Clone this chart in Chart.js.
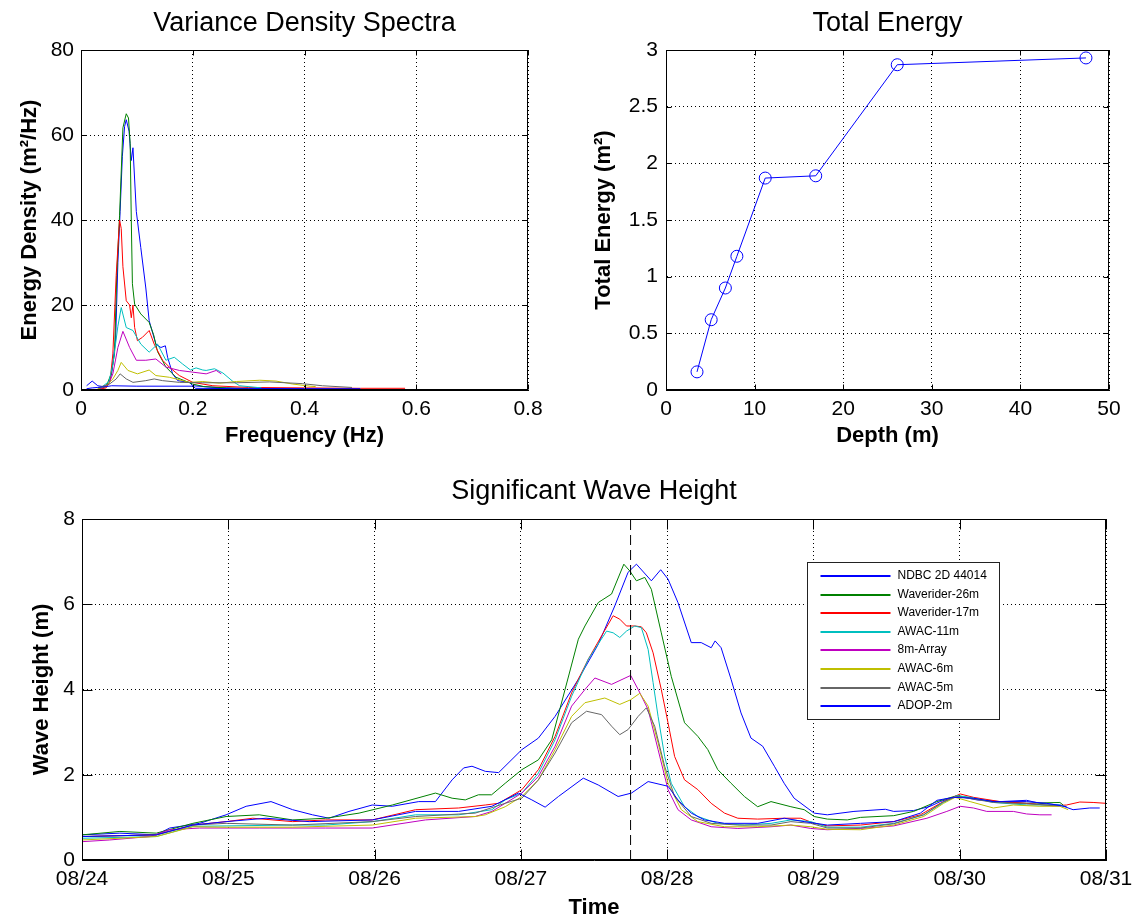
<!DOCTYPE html>
<html>
<head>
<meta charset="utf-8">
<title>Wave spectra, total energy and significant wave height</title>
<script src="https://cdn.jsdelivr.net/npm/chart.js@4.4.1/dist/chart.umd.min.js"></script>
<style>
  html, body { margin: 0; padding: 0; background: #fff; }
  #wrap { position: relative; width: 1141px; height: 921px; overflow: hidden; }
  canvas { position: absolute; }
</style>
</head>
<body>
<div id="wrap">
  <canvas id="spectra" width="560" height="460" style="left:0;top:0"></canvas>
  <canvas id="energy" width="571" height="460" style="left:570px;top:0"></canvas>
  <canvas id="waves" width="1141" height="461" style="left:0;top:460px"></canvas>
</div>
<script>
// instrument names, same order in every panel
const seriesNames = ["NDBC 2D 44014", "Waverider-26m", "Waverider-17m", "AWAC-11m", "8m-Array", "AWAC-6m", "AWAC-5m", "ADOP-2m"];
const lineColors = ["#0000ff", "#008000", "#ff0000", "#00bfbf", "#bf00bf", "#bfbf00", "#666666", "#0000ff"];

// variance density spectra: [frequency Hz, energy density m^2/Hz]
const specNdbc = [[0.01,1.0],[0.02,2.1],[0.03,1.0],[0.04,0.8],[0.05,1.5],[0.055,4],[0.062,12],[0.066,30],[0.07,42],[0.074,55],[0.078,62],[0.081,63.6],[0.086,60.9],[0.09,54],[0.093,57],[0.099,42],[0.107,33.5],[0.116,24],[0.122,16.3],[0.134,10.8],[0.143,10],[0.151,10.4],[0.155,7.7],[0.164,3.8],[0.173,2.2],[0.194,1.8],[0.2,1.0],[0.25,0.5],[0.3,0.4],[0.4,0.3],[0.5,0.2]];
const specWr26 = [[0.03,0.2],[0.045,0.8],[0.054,3.8],[0.06,8.5],[0.064,27],[0.069,41],[0.075,61.7],[0.081,65],[0.085,64],[0.088,58],[0.09,40],[0.092,25],[0.096,20.2],[0.107,17.9],[0.122,15.9],[0.13,13],[0.137,9],[0.152,5.4],[0.17,3],[0.2,1.4],[0.22,0.8],[0.26,0.5],[0.3,0.3]];
const specWr17 = [[0.03,0.1],[0.045,0.5],[0.052,2],[0.057,8.5],[0.063,27],[0.069,40],[0.072,38],[0.075,29],[0.081,21],[0.087,20],[0.09,17],[0.093,20],[0.096,14.7],[0.101,11.6],[0.11,12.4],[0.122,14],[0.131,10.8],[0.146,7],[0.158,5.4],[0.176,3.4],[0.2,1.8],[0.236,1],[0.3,0.6],[0.4,0.5],[0.5,0.4],[0.58,0.4]];
const specAwac11 = [[0.035,0.5],[0.05,2],[0.057,6],[0.066,15],[0.072,19.4],[0.081,14.7],[0.093,14],[0.107,10.8],[0.122,8.9],[0.137,10.8],[0.152,7],[0.167,7.7],[0.182,6.1],[0.196,4.7],[0.206,5.2],[0.218,4.7],[0.224,4.6],[0.239,5],[0.254,4.0],[0.272,2.0],[0.284,1.0],[0.323,0.5]];
const specArray8 = [[0.035,0.3],[0.05,1.5],[0.057,3.8],[0.066,10],[0.075,13.8],[0.087,10],[0.099,7],[0.116,7],[0.134,7.3],[0.152,5.4],[0.176,4.6],[0.2,4.2],[0.224,3.8],[0.242,4.6],[0.251,3.8]];
const specAwac6 = [[0.03,0.3],[0.045,1],[0.057,2.6],[0.066,4.6],[0.072,6.5],[0.084,4.6],[0.101,3.8],[0.122,4.7],[0.134,3.4],[0.158,3],[0.194,1.8],[0.218,2.0],[0.248,1.6],[0.278,2.0],[0.32,2.3],[0.349,2.1],[0.379,1.4],[0.41,0.9],[0.42,0.8]];
const specAwac5 = [[0.03,0.5],[0.051,1.4],[0.063,2.6],[0.07,3.8],[0.081,2.6],[0.093,1.8],[0.116,2.2],[0.131,2.6],[0.146,2.2],[0.176,1.8],[0.218,1.7],[0.278,1.7],[0.337,1.9],[0.396,1.5],[0.432,1.0],[0.485,0.6]];
const specAdop2 = [[0.01,0.3],[0.02,0.5],[0.03,0.6],[0.045,0.8],[0.055,1.0],[0.1,0.9],[0.2,0.9],[0.205,0.4],[0.3,0.3],[0.4,0.3],[0.5,0.3]];

// total energy against instrument depth
const depths = [3.5, 5.1, 6.7, 8.0, 11.2, 16.9, 26.1, 47.4];
const totalEnergy = [0.16, 0.62, 0.90, 1.18, 1.87, 1.89, 2.87, 2.93];

// significant wave height: [days after 08/24 00:00, Hs m]
const dayLabels = ["08/24", "08/25", "08/26", "08/27", "08/28", "08/29", "08/30", "08/31"];
const stormDay = 3.75;
const hsNdbc = [[0,0.59],[0.259,0.63],[0.508,0.59],[0.599,0.75],[0.804,0.86],[0.985,1.06],[1.122,1.26],[1.292,1.37],[1.44,1.18],[1.576,1.06],[1.689,0.98],[1.825,1.14],[1.984,1.29],[2.121,1.26],[2.302,1.37],[2.416,1.37],[2.53,1.88],[2.609,2.16],[2.666,2.2],[2.757,2.08],[2.848,2.05],[3.007,2.59],[3.12,2.86],[3.234,3.37],[3.393,4.24],[3.529,5.06],[3.642,5.96],[3.733,6.75],[3.79,6.94],[3.892,6.55],[3.956,6.81],[4.006,6.59],[4.074,6.04],[4.165,5.1],[4.233,5.1],[4.301,4.98],[4.328,5.14],[4.369,4.98],[4.437,4.24],[4.505,3.45],[4.573,2.86],[4.653,2.67],[4.733,2.2],[4.8,1.8],[4.868,1.45],[5.005,1.1],[5.095,1.06],[5.277,1.14],[5.492,1.19],[5.549,1.14],[5.685,1.16],[5.799,1.26],[5.867,1.37],[5.958,1.47],[6.003,1.49],[6.117,1.41],[6.276,1.37],[6.457,1.4],[6.548,1.33],[6.685,1.29],[6.775,1.18],[6.889,1.22],[6.957,1.22]];
const hsWr26 = [[0,0.59],[0.259,0.67],[0.508,0.63],[0.758,0.86],[0.985,1.02],[1.212,1.06],[1.44,0.94],[1.666,0.98],[1.894,1.1],[2.121,1.29],[2.416,1.57],[2.53,1.45],[2.62,1.41],[2.71,1.53],[2.8,1.53],[2.893,1.8],[3.007,2.12],[3.12,2.35],[3.211,2.82],[3.302,4.0],[3.393,5.18],[3.438,5.49],[3.529,6.04],[3.62,6.24],[3.704,6.94],[3.745,6.78],[3.79,6.55],[3.847,6.63],[3.892,6.35],[3.96,5.33],[4.028,4.31],[4.119,3.22],[4.21,2.9],[4.278,2.59],[4.346,2.12],[4.437,1.8],[4.528,1.49],[4.619,1.25],[4.71,1.37],[4.846,1.25],[4.937,1.18],[5.005,1.02],[5.095,0.96],[5.231,0.94],[5.322,1.0],[5.549,1.04],[5.685,1.14],[5.844,1.37],[5.981,1.51],[6.049,1.47],[6.23,1.37],[6.457,1.33],[6.685,1.35],[6.707,1.29]];
const hsWr17 = [[0,0.55],[0.508,0.59],[0.758,0.82],[0.985,0.9],[1.167,0.98],[1.44,0.9],[1.666,0.94],[1.984,0.94],[2.28,1.18],[2.575,1.22],[2.757,1.29],[2.848,1.33],[3.007,1.65],[3.12,2.12],[3.234,2.9],[3.347,3.92],[3.461,4.71],[3.552,5.26],[3.631,5.73],[3.676,5.65],[3.722,5.49],[3.779,5.49],[3.824,5.47],[3.858,5.33],[3.904,4.86],[3.96,4.0],[4.006,3.22],[4.051,2.43],[4.119,1.88],[4.21,1.65],[4.301,1.33],[4.392,1.1],[4.483,0.98],[4.619,0.96],[4.801,0.98],[4.914,0.98],[5.005,0.86],[5.095,0.8],[5.322,0.82],[5.549,0.9],[5.731,1.06],[5.867,1.33],[6.003,1.55],[6.094,1.47],[6.276,1.37],[6.457,1.33],[6.639,1.27],[6.73,1.29],[6.821,1.36],[6.912,1.35],[6.998,1.33]];
const hsAwac11 = [[0,0.51],[0.508,0.55],[0.758,0.79],[0.985,0.8],[1.44,0.82],[1.666,0.82],[1.984,0.9],[2.28,1.06],[2.575,1.06],[2.802,1.18],[2.893,1.41],[3.007,1.57],[3.12,2.04],[3.234,2.82],[3.347,3.84],[3.461,4.71],[3.586,5.37],[3.631,5.33],[3.676,5.22],[3.722,5.37],[3.779,5.49],[3.824,5.45],[3.87,4.94],[3.904,4.16],[3.938,3.37],[3.983,2.43],[4.028,1.8],[4.119,1.25],[4.21,1.02],[4.346,0.86],[4.528,0.82],[4.71,0.86],[4.846,0.94],[4.982,0.9],[5.095,0.77],[5.322,0.77],[5.549,0.86],[5.753,1.06],[5.89,1.35],[5.981,1.51],[6.071,1.47],[6.23,1.35],[6.457,1.29],[6.685,1.29],[6.73,1.25]];
const hsArray8 = [[0,0.43],[0.19,0.47],[0.463,0.55],[0.599,0.71],[0.804,0.75],[1.212,0.75],[1.666,0.75],[1.984,0.75],[2.348,0.94],[2.688,1.02],[2.802,1.14],[2.893,1.33],[3.007,1.57],[3.12,1.96],[3.234,2.67],[3.347,3.61],[3.438,4.0],[3.506,4.27],[3.62,4.12],[3.751,4.33],[3.802,4.0],[3.87,3.53],[3.938,2.59],[4.006,1.65],[4.074,1.18],[4.165,0.94],[4.301,0.78],[4.483,0.74],[4.71,0.78],[4.846,0.82],[4.982,0.74],[5.095,0.71],[5.367,0.75],[5.549,0.8],[5.776,0.98],[5.912,1.14],[6.003,1.26],[6.094,1.22],[6.185,1.14],[6.367,1.14],[6.457,1.08],[6.548,1.06],[6.628,1.06]];
const hsAwac6 = [[0,0.47],[0.508,0.55],[0.758,0.78],[0.985,0.77],[1.44,0.77],[1.984,0.82],[2.28,0.98],[2.688,1.02],[2.757,1.06],[2.893,1.25],[3.007,1.49],[3.12,1.88],[3.234,2.59],[3.347,3.37],[3.438,3.69],[3.574,3.8],[3.676,3.65],[3.751,3.76],[3.813,3.91],[3.87,3.61],[3.938,2.75],[4.006,1.8],[4.097,1.18],[4.21,0.9],[4.392,0.78],[4.619,0.78],[4.846,0.82],[4.982,0.78],[5.095,0.72],[5.322,0.71],[5.549,0.82],[5.753,1.02],[5.89,1.33],[5.969,1.47],[6.071,1.37],[6.23,1.22],[6.367,1.29],[6.548,1.26],[6.685,1.26],[6.741,1.18]];
const hsAwac5 = [[0,0.55],[0.508,0.59],[0.758,0.82],[0.985,0.86],[1.44,0.82],[1.984,0.9],[2.28,1.02],[2.688,1.1],[2.893,1.33],[3.007,1.45],[3.12,1.88],[3.234,2.51],[3.347,3.22],[3.449,3.49],[3.552,3.41],[3.62,3.14],[3.676,2.94],[3.733,3.06],[3.802,3.37],[3.858,3.57],[3.915,3.14],[3.983,2.2],[4.051,1.49],[4.165,1.02],[4.301,0.86],[4.483,0.82],[4.71,0.82],[4.846,0.9],[4.982,0.86],[5.095,0.75],[5.322,0.75],[5.549,0.85],[5.753,1.06],[5.89,1.37],[5.981,1.49],[6.094,1.43],[6.23,1.35],[6.457,1.32],[6.685,1.27]];
const hsAdop2 = [[0,0.55],[0.508,0.59],[0.758,0.82],[0.985,0.9],[1.258,0.98],[1.553,0.9],[1.984,0.94],[2.28,1.14],[2.575,1.14],[2.802,1.26],[2.984,1.57],[3.075,1.41],[3.166,1.24],[3.257,1.49],[3.427,1.92],[3.529,1.76],[3.665,1.49],[3.756,1.57],[3.87,1.84],[4.006,1.73],[4.074,1.41],[4.165,1.1],[4.256,0.94],[4.392,0.86],[4.619,0.86],[4.801,0.98],[4.937,0.9],[5.095,0.82],[5.322,0.86],[5.549,0.9],[5.731,1.1],[5.844,1.4],[5.958,1.47],[6.094,1.45],[6.23,1.37],[6.457,1.37],[6.594,1.33],[6.73,1.25]];

const spectra = [specNdbc, specWr26, specWr17, specAwac11, specArray8, specAwac6, specAwac5, specAdop2];
const waveHeights = [hsNdbc, hsWr26, hsWr17, hsAwac11, hsArray8, hsAwac6, hsAwac5, hsAdop2];

Chart.defaults.font.family = '"Liberation Sans", Arial, Helvetica, sans-serif';
Chart.defaults.color = "#000";
Chart.defaults.animation = false;

const tickFont = { size: 21 };
const labelFont = { size: 22, weight: "bold" };
const titleFont = { size: 27, weight: "normal" };

const toXY = (pts) => pts.map(([x, y]) => ({ x, y }));
const plainNumber = (v) => String(Math.round(v * 100) / 100);

// matlab-style box round the axes with short ticks pointing inwards
const framePlugin = {
  id: "frame",
  afterDraw(chart, args, opts) {
    const { ctx, chartArea: a, scales } = chart;
    const len = opts.tickLen || 5;
    const L = Math.round(a.left) + 0.5, R = Math.round(a.right) - 0.5;
    const T = Math.round(a.top) + 0.5, B = Math.round(a.bottom) - 0.5;
    ctx.save();
    ctx.strokeStyle = "#000";
    ctx.lineWidth = 1;
    ctx.beginPath();
    scales.x.ticks.forEach((t) => {
      const px = Math.round(scales.x.getPixelForValue(t.value)) + 0.5;
      ctx.moveTo(px, B); ctx.lineTo(px, B - len);
      ctx.moveTo(px, T); ctx.lineTo(px, T + len);
    });
    scales.y.ticks.forEach((t) => {
      const py = Math.round(scales.y.getPixelForValue(t.value)) + 0.5;
      ctx.moveTo(L, py); ctx.lineTo(L + len, py);
      ctx.moveTo(R, py); ctx.lineTo(R - len, py);
    });
    ctx.stroke();
    ctx.strokeRect(L, T, R - L, B - T);
    ctx.restore();
  },
};
Chart.register(framePlugin);

// boxed legend sitting inside the plot, like the matlab one
const boxLegend = {
  id: "boxLegend",
  afterDraw(chart, args, opts) {
    const { ctx, chartArea } = chart;
    const x0 = Math.round(chartArea.right - opts.fromRight) + 0.5;
    const y0 = Math.round(chartArea.top + opts.fromTop) + 0.5;
    const items = chart.data.datasets.filter((d) => d.label);
    ctx.save();
    ctx.fillStyle = "#fff";
    ctx.fillRect(x0, y0, opts.width, opts.height);
    ctx.strokeStyle = "#222";
    ctx.lineWidth = 1;
    ctx.strokeRect(x0, y0, opts.width, opts.height);
    ctx.font = '12px "Liberation Sans", Arial, sans-serif';
    ctx.textBaseline = "middle";
    items.forEach((d, i) => {
      const y = Math.round(y0 + opts.firstRow + i * opts.rowGap);
      ctx.strokeStyle = d.borderColor;
      ctx.lineWidth = 2;
      ctx.beginPath();
      ctx.moveTo(x0 + 13, y);
      ctx.lineTo(x0 + 83, y);
      ctx.stroke();
      ctx.fillStyle = "#000";
      ctx.fillText(d.label, x0 + 90, y);
    });
    ctx.restore();
  },
};

function fixSize(size) {
  return (scale) => {
    if (scale.isHorizontal()) scale.height = size;
    else scale.width = size;
    scale.paddingLeft = 0;
    scale.paddingRight = 0;
    scale.paddingTop = 0;
    scale.paddingBottom = 0;
  };
}

function linearAxis(cfg) {
  return {
    type: "linear",
    min: cfg.min,
    max: cfg.max,
    afterFit: fixSize(cfg.size),
    ticks: {
      stepSize: cfg.step,
      font: tickFont,
      padding: cfg.tickPad,
      color: "#000",
      maxRotation: 0,
      autoSkip: false,
      callback: cfg.fmt || plainNumber,
    },
    grid: { color: "#000", lineWidth: 1, drawTicks: false },
    border: { display: true, color: "#000", dash: [1, 3] },
    title: { display: true, text: cfg.title, font: labelFont, color: "#000", padding: cfg.titlePad },
  };
}

function chartTitle(text, padTop, padBottom) {
  return { display: true, text, font: titleFont, color: "#000", fullSize: false, padding: { top: padTop, bottom: padBottom } };
}

function seriesSets(list) {
  return list.map((pts, i) => ({
    label: seriesNames[i],
    data: toXY(pts),
    borderColor: lineColors[i],
    borderWidth: 1,
    pointRadius: 0,
    tension: 0,
    fill: false,
    order: list.length - i,
  }));
}

new Chart(document.getElementById("spectra"), {
  type: "line",
  data: { datasets: seriesSets(spectra) },
  options: {
    responsive: false,
    events: [],
    layout: { padding: { left: 0, top: 0, right: 32, bottom: 0 } },
    plugins: {
      legend: { display: false },
      tooltip: { enabled: false },
      title: chartTitle("Variance Density Spectra", 7.8, 9.8),
      frame: { tickLen: 5 },
    },
    scales: {
      x: linearAxis({ min: 0, max: 0.8, step: 0.2, size: 70, tickPad: 7, title: "Frequency (Hz)", titlePad: { top: 0, bottom: 10.8 } }),
      y: linearAxis({ min: 0, max: 80, step: 20, size: 81, tickPad: 7, title: "Energy Density (m²/Hz)", titlePad: { top: 16.8, bottom: 0 } }),
    },
  },
});

new Chart(document.getElementById("energy"), {
  type: "line",
  data: {
    datasets: [{
      label: "Total Energy",
      data: depths.map((d, i) => ({ x: d, y: totalEnergy[i] })),
      borderColor: "#0000ff",
      borderWidth: 1,
      pointStyle: "circle",
      pointRadius: 6,
      pointBorderWidth: 1,
      pointBorderColor: "#0000ff",
      pointBackgroundColor: "rgba(0,0,0,0)",
      tension: 0,
      fill: false,
    }],
  },
  options: {
    responsive: false,
    events: [],
    layout: { padding: { left: 0, top: 0, right: 32, bottom: 0 } },
    plugins: {
      legend: { display: false },
      tooltip: { enabled: false },
      title: chartTitle("Total Energy", 7.8, 9.8),
      frame: { tickLen: 5 },
    },
    scales: {
      x: linearAxis({ min: 0, max: 50, step: 10, size: 70, tickPad: 7, title: "Depth (m)", titlePad: { top: 0, bottom: 10.8 } }),
      y: linearAxis({ min: 0, max: 3, step: 0.5, size: 96, tickPad: 8, title: "Total Energy (m²)", titlePad: { top: 20.8, bottom: 0 } }),
    },
  },
});

const waveSets = seriesSets(waveHeights);
waveSets.push({
  label: "",
  data: [{ x: stormDay, y: 0 }, { x: stormDay, y: 8 }],
  borderColor: "#000",
  borderWidth: 1,
  borderDash: [10, 5],
  pointRadius: 0,
  fill: false,
  order: -1,
});

new Chart(document.getElementById("waves"), {
  type: "line",
  data: { datasets: waveSets },
  plugins: [boxLegend],
  options: {
    responsive: false,
    events: [],
    layout: { padding: { left: 0, top: 0, right: 35, bottom: 0 } },
    plugins: {
      legend: { display: false },
      tooltip: { enabled: false },
      title: chartTitle("Significant Wave Height", 15.8, 10.8),
      frame: { tickLen: 10 },
      boxLegend: { fromRight: 299, fromTop: 43, width: 192, height: 157, firstRow: 13.5, rowGap: 18.6 },
    },
    scales: {
      x: linearAxis({ min: 0, max: 7, step: 1, size: 61, tickPad: 7, title: "Time", titlePad: { top: 0, bottom: 0 }, fmt: (v) => dayLabels[v] || "" }),
      y: linearAxis({ min: 0, max: 8, step: 2, size: 82, tickPad: 7, title: "Wave Height (m)", titlePad: { top: 28.8, bottom: 0 } }),
    },
  },
});
</script>
</body>
</html>
